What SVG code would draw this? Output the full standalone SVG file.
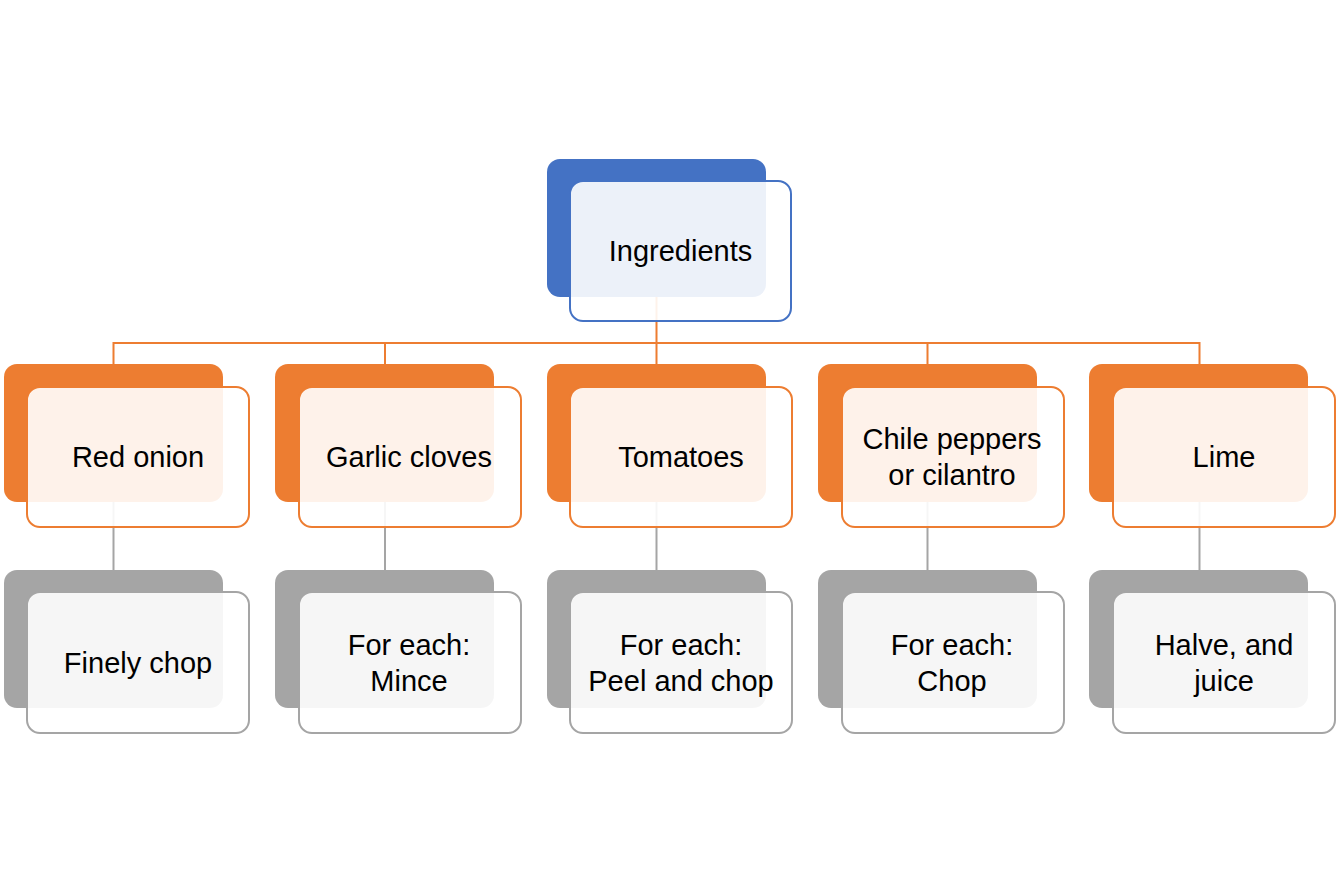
<svg xmlns="http://www.w3.org/2000/svg" width="1337" height="891" viewBox="0 0 1337 891">
<style>
.bk{stroke:none}
.fr{fill:#ffffff;fill-opacity:0.9;stroke-width:2}
.blue{fill:#4472C4}
.org{fill:#ED7D31}
.gry{fill:#A5A5A5}
.fblue{stroke:#4472C4}
.forg{stroke:#ED7D31}
.fgry{stroke:#A5A5A5}
.t{font-family:"Liberation Sans",Arial,sans-serif;font-size:29px;fill:#000;text-anchor:middle}
.co{fill:none;stroke:#ED7D31;stroke-width:2}
.cg{fill:none;stroke:#A5A5A5;stroke-width:2}
</style>
<rect width="1337" height="891" fill="#ffffff"/>
<g id="backs">
<rect class="bk blue" x="547" y="159" width="219" height="138" rx="13"/>
<rect class="bk org" x="4" y="364" width="219" height="138" rx="13"/>
<rect class="bk org" x="275" y="364" width="219" height="138" rx="13"/>
<rect class="bk org" x="547" y="364" width="219" height="138" rx="13"/>
<rect class="bk org" x="818" y="364" width="219" height="138" rx="13"/>
<rect class="bk org" x="1089" y="364" width="219" height="138" rx="13"/>
<rect class="bk gry" x="4" y="570" width="219" height="138" rx="13"/>
<rect class="bk gry" x="275" y="570" width="219" height="138" rx="13"/>
<rect class="bk gry" x="547" y="570" width="219" height="138" rx="13"/>
<rect class="bk gry" x="818" y="570" width="219" height="138" rx="13"/>
<rect class="bk gry" x="1089" y="570" width="219" height="138" rx="13"/>
</g>
<g id="connectors">
<path class="co" d="M656.5 297 V343 M113.5 364 V343 H1199.5 V364 M385 343 V364 M656.5 343 V364 M927.5 343 V364"/>
<path class="cg" d="M113.5 502 V570 M385 502 V570 M656.5 502 V570 M927.5 502 V570 M1199.5 502 V570"/>
</g>
<g id="n-ingredients">
<rect class="fr fblue" x="570" y="181" width="221" height="140" rx="13"/>
<text class="t" x="680.5" y="261">Ingredients</text>
</g>
<g id="n-red-onion">
<rect class="fr forg" x="27" y="387" width="222" height="140" rx="13"/>
<text class="t" x="138" y="467">Red onion</text>
</g>
<g id="n-garlic">
<rect class="fr forg" x="299" y="387" width="222" height="140" rx="13"/>
<text class="t" x="409" y="467">Garlic cloves</text>
</g>
<g id="n-tomatoes">
<rect class="fr forg" x="570" y="387" width="222" height="140" rx="13"/>
<text class="t" x="681" y="467">Tomatoes</text>
</g>
<g id="n-chile">
<rect class="fr forg" x="842" y="387" width="222" height="140" rx="13"/>
<text class="t" x="952" y="449">Chile peppers</text>
<text class="t" x="952" y="485">or cilantro</text>
</g>
<g id="n-lime">
<rect class="fr forg" x="1113" y="387" width="222" height="140" rx="13"/>
<text class="t" x="1224" y="467">Lime</text>
</g>
<g id="n-finely-chop">
<rect class="fr fgry" x="27" y="592" width="222" height="141" rx="13"/>
<text class="t" x="138" y="673">Finely chop</text>
</g>
<g id="n-mince">
<rect class="fr fgry" x="299" y="592" width="222" height="141" rx="13"/>
<text class="t" x="409" y="655">For each:</text>
<text class="t" x="409" y="691">Mince</text>
</g>
<g id="n-peel">
<rect class="fr fgry" x="570" y="592" width="222" height="141" rx="13"/>
<text class="t" x="681" y="655">For each:</text>
<text class="t" x="681" y="691">Peel and chop</text>
</g>
<g id="n-chop">
<rect class="fr fgry" x="842" y="592" width="222" height="141" rx="13"/>
<text class="t" x="952" y="655">For each:</text>
<text class="t" x="952" y="691">Chop</text>
</g>
<g id="n-halve">
<rect class="fr fgry" x="1113" y="592" width="222" height="141" rx="13"/>
<text class="t" x="1224" y="655">Halve, and</text>
<text class="t" x="1224" y="691">juice</text>
</g>
</svg>
